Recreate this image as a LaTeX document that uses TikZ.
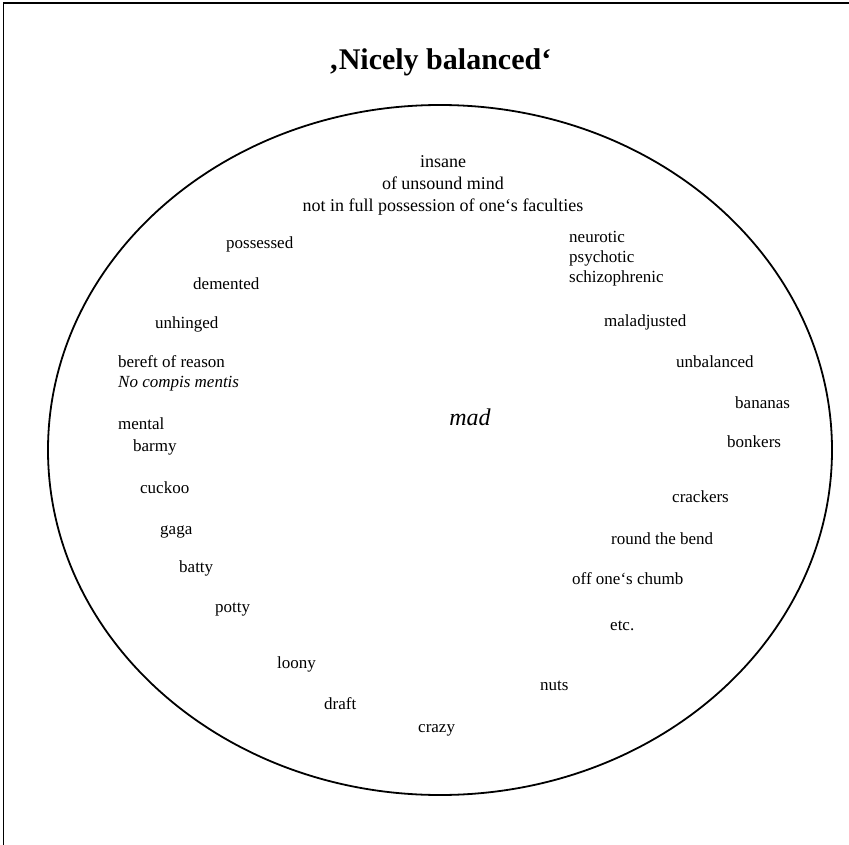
\documentclass[tikz,border=0pt]{standalone}
\usepackage{fontspec}
\setmainfont{Liberation Serif}
\begin{document}
\begin{tikzpicture}[x=1pt,y=-1pt,
  word/.style={inner sep=0pt,anchor=base west,font=\fontsize{17}{20}\selectfont},
  frameline/.style={line width=1.6pt},
  oval/.style={line width=1.8pt}]
\useasboundingbox (0,0) rectangle (849,845);
% frame (top and left edges)
\coordinate (ftl) at (3.5,3);
\coordinate (ftr) at (849,3);
\coordinate (fbl) at (3.5,845);
\draw[frameline] (ftr) -- (ftl) -- (fbl);
% title
\node[inner sep=0pt,anchor=base,font=\bfseries\fontsize{30}{34}\selectfont] (title) at (440,70) {‚Nicely balanced‘};
% ellipse
\draw[oval] (440,450) ellipse [x radius=392, y radius=345];
% centre word
\node[inner sep=0pt,anchor=base,font=\itshape\fontsize{24}{28}\selectfont] (mad) at (470,425) {mad};
% top block
\node[inner sep=0pt,anchor=base,align=center,font=\fontsize{18}{22}\selectfont] (top) at (443,212) {insane\\of unsound mind\\not in full possession of one‘s faculties};
% left side
\node[word] (possessed) at (226,249) {possessed};
\node[word] (demented) at (193,290) {demented};
\node[word] (unhinged) at (155,328) {unhinged};
\node[word] (bereft) at (118,367) {bereft of reason};
\node[word,font=\itshape\fontsize{17}{20}\selectfont] (nocompis) at (118,387) {No compis mentis};
\node[word] (mental) at (118,429) {mental};
\node[word] (barmy) at (133,451) {barmy};
\node[word] (cuckoo) at (140,493) {cuckoo};
\node[word] (gaga) at (160,534) {gaga};
\node[word] (batty) at (179,572) {batty};
\node[word] (potty) at (215,612) {potty};
\node[word] (loony) at (277,668) {loony};
\node[word] (draft) at (324,709) {draft};
\node[word] (crazy) at (418,732) {crazy};
% right side
\node[word] (neurotic) at (569,243) {neurotic};
\node[word] (psychotic) at (569,263) {psychotic};
\node[word] (schizo) at (569,283) {schizophrenic};
\node[word] (maladj) at (604,326) {maladjusted};
\node[word] (unbal) at (676,367) {unbalanced};
\node[word] (bananas) at (735,408) {bananas};
\node[word] (bonkers) at (727,447) {bonkers};
\node[word] (crackers) at (672,502) {crackers};
\node[word] (roundbend) at (611,544) {round the bend};
\node[word] (chumb) at (572,584) {off one‘s chumb};
\node[word] (etc) at (610,630) {etc.};
\node[word] (nuts) at (540,690) {nuts};
\end{tikzpicture}
\end{document}
